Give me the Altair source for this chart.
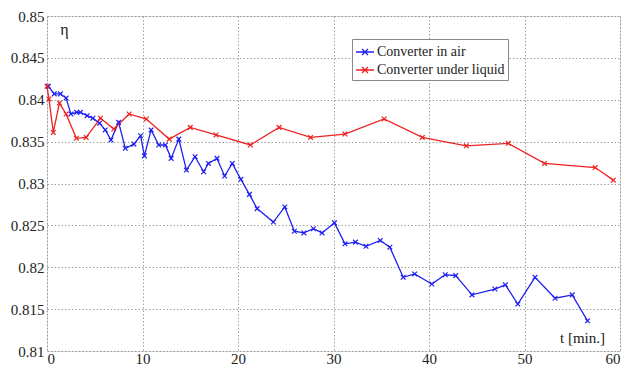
import altair as alt
import pandas as pd

air_t = [0.14, 0.76, 1.4, 2.0, 2.5, 3.1, 3.5, 4.2, 4.8, 5.5, 6.1, 6.7, 7.5, 8.2, 9.1,
         9.8, 10.2, 10.9, 11.7, 12.4, 13.0, 13.8, 14.6, 15.5, 16.4, 16.9, 17.8, 18.6,
         19.4, 20.3, 21.2, 22.0, 23.7, 24.9, 25.9, 26.9, 27.9, 28.8, 30.1, 31.2, 32.3,
         33.4, 34.9, 35.9, 37.3, 38.5, 40.3, 41.7, 42.8, 44.5, 46.9, 48.0, 49.3, 51.1,
         53.2, 55.0, 56.6]
air_eta = [0.8416, 0.8407, 0.8407, 0.8402, 0.8383, 0.8385, 0.8385, 0.8381, 0.8378,
           0.8372, 0.8364, 0.8352, 0.8373, 0.8342, 0.8347, 0.8357, 0.8333, 0.8364,
           0.8346, 0.8346, 0.8330, 0.8353, 0.8316, 0.8332, 0.8314, 0.8324, 0.8330,
           0.8309, 0.8324, 0.8305, 0.8287, 0.8270, 0.8254, 0.8272, 0.8243, 0.8241,
           0.8246, 0.8241, 0.8253, 0.8228, 0.8230, 0.8225, 0.8232, 0.8224, 0.8188,
           0.8192, 0.8180, 0.8191, 0.8190, 0.8167, 0.8174, 0.8179, 0.8156, 0.8188,
           0.8163, 0.8167, 0.8136]

liquid_t = [0.0, 0.2, 0.66, 1.3, 2.0, 3.07, 4.1, 5.6, 7.0, 8.6, 10.4, 12.8, 15.0,
            17.7, 21.3, 24.3, 27.6, 31.2, 35.3, 39.3, 43.9, 48.3, 52.1, 57.4, 59.3]
liquid_eta = [0.8416, 0.8401, 0.8361, 0.8396, 0.8383, 0.8354, 0.8355, 0.8378, 0.8365,
              0.8383, 0.8377, 0.8353, 0.8367, 0.8358, 0.8346, 0.8367, 0.8355, 0.8359,
              0.8377, 0.8355, 0.8345, 0.8348, 0.8324, 0.8319, 0.8304]

series_names = ["Converter in air", "Converter under liquid"]
series_colors = ["#2020f0", "#ee2222"]
x_ticks = [0, 10, 20, 30, 40, 50, 60]
y_ticks = [0.81, 0.815, 0.82, 0.825, 0.83, 0.835, 0.84, 0.845, 0.85]

df = pd.concat([
    pd.DataFrame({"t": air_t, "eta": air_eta, "series": series_names[0]}),
    pd.DataFrame({"t": liquid_t, "eta": liquid_eta, "series": series_names[1]}),
])

FONT = "Liberation Serif"
xmark = "M-1,-1L1,1M-1,1L1,-1"
legend_sym = "M-1,0L1,0M-0.33,-0.33L0.33,0.33M-0.33,0.33L0.33,-0.33"

axis_common = dict(grid=True, gridDash=[1.5, 2], gridColor="#888888", gridOpacity=1,
                   gridWidth=0.8, domain=False, ticks=False, labelFont=FONT,
                   labelFontSize=15, labelColor="#222222", titleColor="#222222",
                   titleFont=FONT, titleFontWeight="normal",
                   titleAlign="center", titleBaseline="middle")

x = alt.X("t:Q", scale=alt.Scale(domain=[0, 60], nice=False),
          axis=alt.Axis(values=x_ticks, title="t [min.]", titleX=535, titleY=-14,
                        titleFontSize=15, labelPadding=0, format="d", **axis_common))
y = alt.Y("eta:Q", scale=alt.Scale(domain=[0.81, 0.85], nice=False, zero=False),
          axis=alt.Axis(values=y_ticks, title="η", titleAngle=0, titleX=17, titleY=13,
                        titleFontSize=16, labelPadding=3, format="~g", **axis_common))
color = alt.Color("series:N",
                  scale=alt.Scale(domain=series_names, range=series_colors),
                  legend=alt.Legend(title=None, orient="none", legendX=305, legendY=23,
                                    symbolType=legend_sym, symbolSize=324,
                                    symbolStrokeWidth=1.3, labelFont=FONT,
                                    labelFontSize=14, labelOffset=2,
                                    labelColor="#222222",
                                    strokeColor="#888888", fillColor="white",
                                    padding=3, rowPadding=1))

base = alt.Chart(df)
lines = base.mark_line(strokeWidth=1.3).encode(x=x, y=y, color=color, order="t:Q")
points = base.mark_point(shape=xmark, size=22, filled=False, strokeWidth=1.2,
                         opacity=1).encode(x=x, y=y, color=color)

chart = alt.layer(lines, points).properties(
    width=573, height=335,
    autosize=alt.AutoSizeParams(type="none"),
    padding={"left": 39, "top": 8, "right": 5, "bottom": 16},
).configure_view(
    stroke="#999999", strokeWidth=1.5
).configure(background="white", font=FONT)

chart.save("out.html", embed_options={"renderer": "svg", "actions": False})
